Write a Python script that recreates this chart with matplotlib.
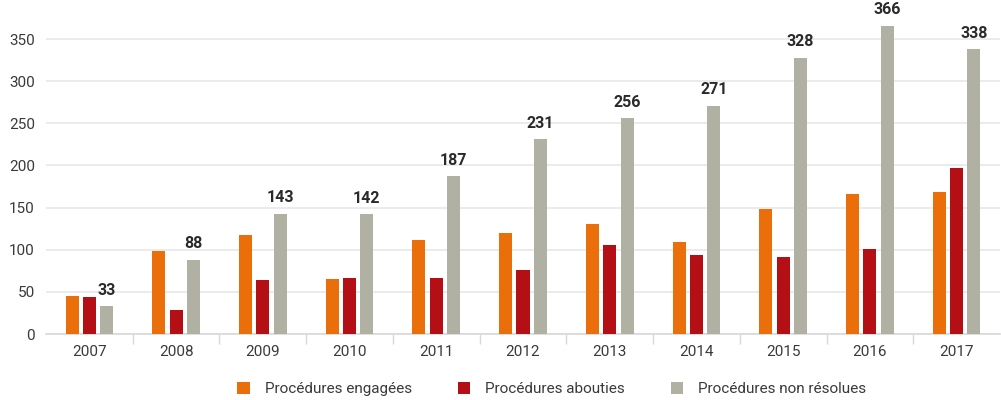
import numpy as np
import matplotlib
matplotlib.use("Agg")
import matplotlib.pyplot as plt
from matplotlib.patches import Patch

##### DATA #####
years = ['2007', '2008', '2009', '2010', '2011', '2012', '2013', '2014', '2015', '2016', '2017']
engagees = [45, 98, 118, 65, 112, 120, 131, 109, 148, 166, 168]
abouties = [44, 29, 64, 66, 67, 76, 106, 94, 91, 101, 197]
non_resolues = [33, 88, 143, 142, 187, 231, 256, 271, 328, 366, 338]
labels = ['Procédures engagées', 'Procédures abouties', 'Procédures non résolues']

c_orange = '#EA6F0B'
c_red = '#B30F14'
c_grey = '#B0B0A3'
txt = '#3a3a3a'

plt.rcParams['font.family'] = ['Roboto', 'DejaVu Sans']

fig = plt.figure(figsize=(10.01, 4.0), dpi=100)
ax = fig.add_axes([46 / 1001, 1 - 334 / 400, (1000 - 46) / 1001, 332 / 400])

x = np.arange(len(years))
w = 0.15
step = 0.2
ax.bar(x - step, engagees, w, color=c_orange, zorder=3)
ax.bar(x, abouties, w, color=c_red, zorder=3)
ax.bar(x + step, non_resolues, w, color=c_grey, zorder=3)

# value labels on top of the grey bars
for xi, v in zip(x, non_resolues):
    ax.text(xi + step, v + 10, str(v), ha='center', va='bottom',
            fontsize=11.5, fontweight='bold', color='#2a2a2a')

ax.set_xlim(-0.5, len(years) - 0.5)
ax.set_ylim(0, 394)
ax.set_yticks(np.arange(0, 351, 50))
ax.set_xticks(x)
ax.set_xticklabels(years)
ax.set_xticks(np.arange(0.5, len(years) - 0.5, 1), minor=True)
ax.tick_params(axis='x', which='major', length=0, pad=8, labelsize=11, labelcolor=txt)
ax.tick_params(axis='x', which='minor', length=7, width=1, color='#d8d8d8')
ax.tick_params(axis='y', length=0, pad=8, labelsize=11, labelcolor=txt)

ax.grid(axis='y', color='#e8e8e8', linewidth=1.2, zorder=0)
for s in ['top', 'right', 'left']:
    ax.spines[s].set_visible(False)
ax.spines['bottom'].set_color('#d8d8d8')
ax.spines['bottom'].set_linewidth(1.2)

handles = [Patch(facecolor=c, label=l) for c, l in zip([c_orange, c_red, c_grey], labels)]
fig.legend(handles=handles, loc='center', bbox_to_anchor=(552 / 1001, 1 - 389 / 400),
           ncol=3, frameon=False, fontsize=11, handlelength=0.8, handleheight=0.8,
           handletextpad=1.0, columnspacing=3.0, labelcolor=txt)

fig.savefig('out.png', dpi=100)
